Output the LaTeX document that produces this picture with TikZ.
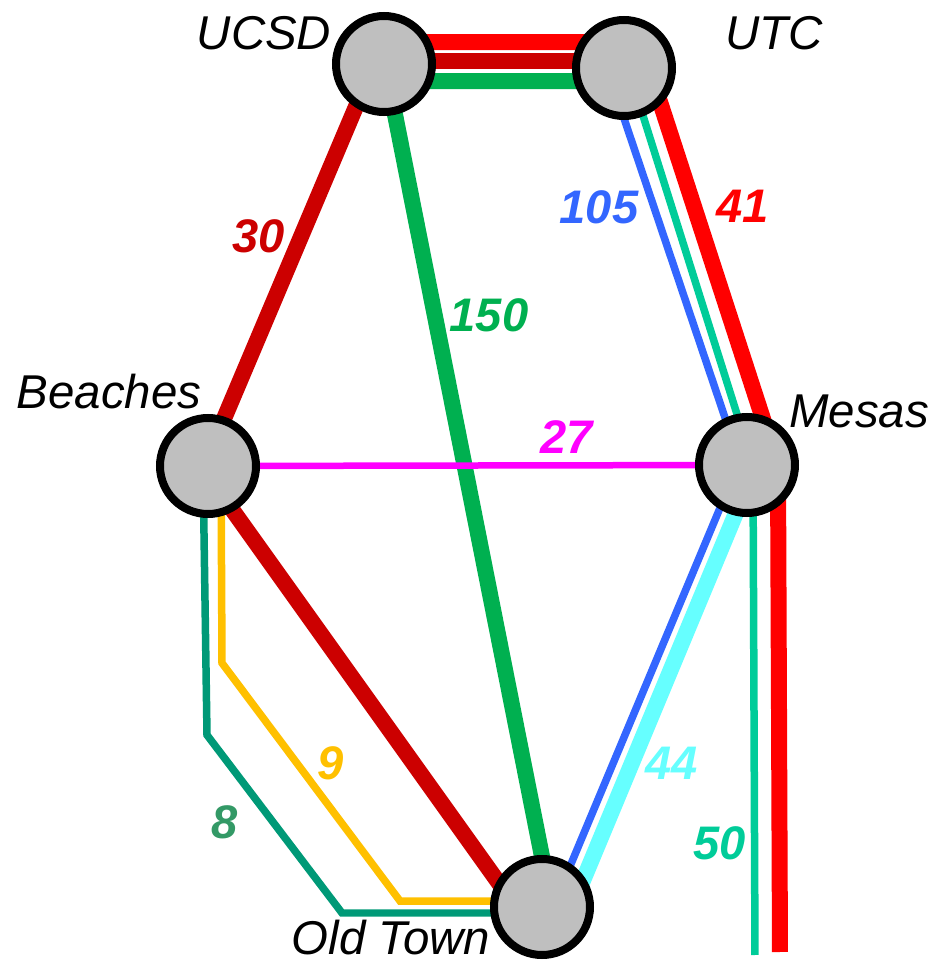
\documentclass[tikz,border=0pt]{standalone}
\usepackage{fontspec}
\setmainfont{Liberation Sans}
\usetikzlibrary{calc,backgrounds}

\definecolor{lineRed}{HTML}{FF0000}
\definecolor{lineDarkRed}{HTML}{CC0000}
\definecolor{lineGreen}{HTML}{00B050}
\definecolor{lineBlue}{HTML}{3366FF}
\definecolor{lineTeal}{HTML}{00CC99}
\definecolor{lineCyan}{HTML}{66FFFF}
\definecolor{lineMagenta}{HTML}{FF00FF}
\definecolor{lineYellow}{HTML}{FFC000}
\definecolor{lineSea}{HTML}{009977}
\definecolor{labelSea}{HTML}{339966}
\definecolor{stopGrey}{HTML}{BFBFBF}

\tikzset{
	stop/.style={circle,draw=black,fill=stopGrey,line width=0.08cm,minimum size=0.96cm,inner sep=0pt},
	stopname/.style={font=\fontsize{13.5}{16}\selectfont\itshape,text=black,inner sep=0pt},
	loadname/.style={font=\fontsize{13.4}{16}\selectfont\bfseries\itshape,inner sep=0pt},
	thickline/.style={line width=0.16cm},
	thinline/.style={line width=0.075cm},
}

\begin{document}
\begin{tikzpicture}

\useasboundingbox (0,0) rectangle (9.46,9.60);

\coordinate (redEnd) at (7.80,0.08);
\coordinate (tealEnd) at (7.55,0.05);
\coordinate (seaBendA) at (2.07,2.25);
\coordinate (seaBendB) at (3.42,0.47);
\coordinate (yellowBendA) at (2.22,2.97);
\coordinate (yellowBendB) at (4.00,0.59);

	% stops
	\node[stop] (UCSD) at (3.84,8.96) {};
	\node[stop] (UTC) at (6.24,8.92) {};
	\node[stop] (Mesas) at (7.47,4.95) {};
	\node[stop] (Beaches) at (2.08,4.94) {};
	\node[stop] (OldTown) at (5.42,0.53) {};

	% stop names
	\node[stopname] (UCSDname) at (2.64,9.27) {UCSD};
	\node[stopname] (UTCname) at (7.74,9.27) {UTC};
	\node[stopname] (Beachesname) at (1.09,5.68) {Beaches};
	\node[stopname] (Mesasname) at (8.59,5.49) {Mesas};
	\node[stopname] (OldTownname) at (3.91,0.22) {Old Town};

	% line loads
	\node[loadname,text=lineDarkRed] (load30) at (2.59,7.24) {30};
	\node[loadname,text=lineGreen] (load150) at (4.89,6.45) {150};
	\node[loadname,text=lineBlue] (load105) at (5.99,7.53) {105};
	\node[loadname,text=lineRed] (load41) at (7.43,7.54) {41};
	\node[loadname,text=lineMagenta] (load27) at (5.67,5.23) {27};
	\node[loadname,text=lineCyan] (load44) at (6.72,1.97) {44};
	\node[loadname,text=lineTeal] (load50) at (7.20,1.17) {50};
	\node[loadname,text=lineYellow] (load9) at (3.31,1.97) {9};
	\node[loadname,text=labelSea] (load8) at (2.25,1.38) {8};

\begin{scope}[on background layer]
	% top of the picture
	\draw[thickline,lineDarkRed] ($(UCSD)+(0,0.03)$) -- ($(UTC)+(0,0.07)$);
	\draw[thickline,lineGreen] ($(UCSD)+(0,-0.17)$) -- ($(UTC)+(0,-0.13)$);
	% red to the bottom edge
	\draw[thickline,lineRed] ($(UCSD)+(0,0.22)$) -- ($(UTC)+(0,0.26)$) -- ($(UTC)+(0.25,0)$) -- ($(Mesas)+(0.31,0)$) -- (redEnd);
	% teal to the bottom edge
	\draw[thinline,lineTeal] ($(UTC)+(0.04,0)$) -- ($(Mesas)+(0.06,0)$) -- (tealEnd);
	% blue
	\draw[thinline,lineBlue] ($(UTC)+(-0.17,0)$) -- ($(Mesas)+(-0.06,0)$);
	\draw[thinline,lineBlue] ($(Mesas)+(-0.09,0)$) -- ($(OldTown)+(0.11,0)$);
	% cyan
	\draw[thickline,lineCyan] ($(Mesas)+(0.09,0)$) -- ($(OldTown)+(0.30,0)$);
	% dark red
	\draw[thickline,lineDarkRed] ($(UCSD)+(-0.10,0)$) -- ($(Beaches)+(-0.04,0)$);
	\draw[thickline,lineDarkRed] ($(Beaches)+(-0.07,0)$) -- ($(OldTown)+(-0.26,0)$);
	% green across
	\draw[thickline,lineGreen] ($(UCSD)+(0.01,0)$) -- ($(OldTown)+(0.10,0)$);
	% magenta
	\draw[line width=0.065cm,lineMagenta] (Beaches) -- (Mesas);
	% the two bent lines
	\draw[thinline,lineSea] ($(Beaches)+(-0.05,0)$) -- (seaBendA) -- (seaBendB) -- ($(OldTown)+(0,-0.06)$);
	\draw[thinline,lineYellow] ($(Beaches)+(0.13,0)$) -- (yellowBendA) -- (yellowBendB) -- ($(OldTown)+(0,0.06)$);
\end{scope}

\end{tikzpicture}
\end{document}
